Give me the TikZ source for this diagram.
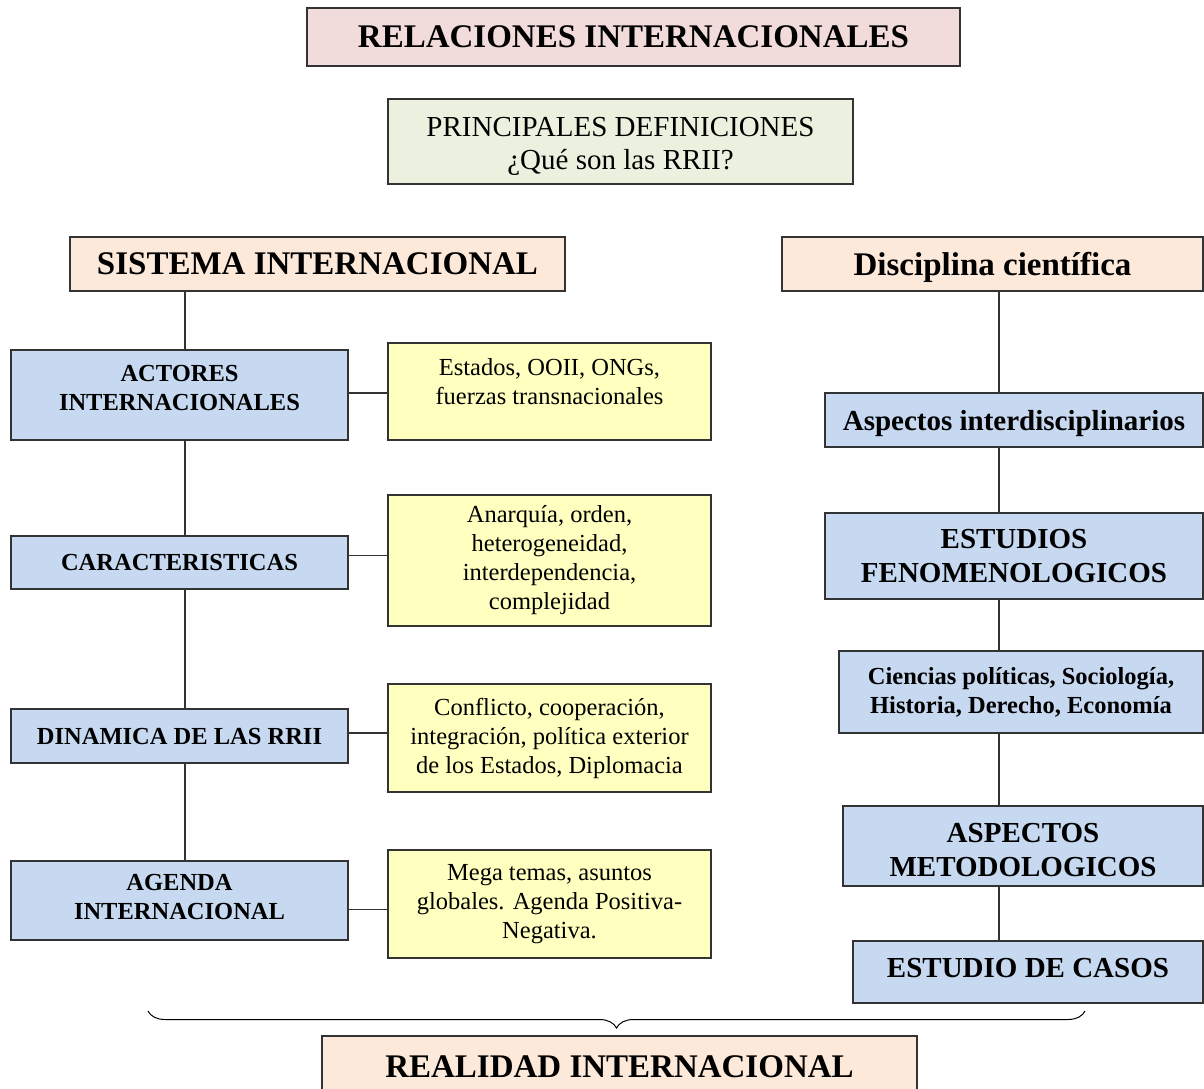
\documentclass[tikz,border=0pt]{standalone}
\usepackage{fontspec}
\setmainfont{Liberation Serif}
\usetikzlibrary{decorations.pathreplacing}
\definecolor{titpink}{HTML}{F2DCDB}
\definecolor{defgreen}{HTML}{EBF1DE}
\definecolor{headpeach}{HTML}{FDE9D9}
\definecolor{itemblue}{HTML}{C6D9F1}
\definecolor{noteyellow}{HTML}{FFFFC0}
\newcommand{\fbig}{\fontsize{33}{38}\selectfont\bfseries}
\newcommand{\fmid}{\fontsize{29}{34}\selectfont\bfseries}
\newcommand{\fsml}{\fontsize{24.5}{29}\selectfont}
\tikzset{
  box/.style 2 args={draw=black!80,line width=1.2pt,inner sep=0pt,outer sep=0pt,
    align=center,minimum width=#1pt,minimum height=#2pt},
  titbox/.style={fill=titpink,font=\fbig},
  defbox/.style={fill=defgreen,font=\fontsize{29}{33}\selectfont},
  headbox/.style={fill=headpeach,font=\fbig},
  itembox/.style={fill=itemblue,font=\fsml\bfseries},
  bigitem/.style={fill=itemblue,font=\fmid},
  notebox/.style={fill=noteyellow,font=\fsml},
  link/.style={draw=black!80,line width=1.4pt}
}
\begin{document}
\begin{tikzpicture}[x=1pt,y=-1pt]
\useasboundingbox (0,0) rectangle (1204,1088);
\coordinate (lspine) at (185,0);
\coordinate (rspine) at (999,0);
% top
\node[box={653}{58},titbox] (tit) at (633.5,37) {RELACIONES INTERNACIONALES};
\node[box={465}{85},defbox] (def) at (620.5,141.5) {\rule{0pt}{28pt}PRINCIPALES DEFINICIONES\\¿Qué son las RRII?};
% left column
\node[box={495}{54},headbox] (sis) at (317.5,264) {SISTEMA INTERNACIONAL};
\node[box={337}{90},itembox] (act) at (179.5,395) {ACTORES\\INTERNACIONALES\\[-23pt]\strut};
\node[box={337}{53},itembox] (car) at (179.5,562.5) {CARACTERISTICAS};
\node[box={337}{54},itembox] (din) at (179.5,736) {DINAMICA DE LAS RRII};
\node[box={337}{79},itembox] (age) at (179.5,900.5) {AGENDA\\INTERNACIONAL\\[-31pt]\strut};
\node[box={323}{97},notebox] (est) at (549.5,391.5) {Estados, OOII, ONGs,\\fuerzas transnacionales\\[-18pt]\strut};
\node[box={323}{131},notebox] (ana) at (549.5,560.5) {Anarquía, orden,\\heterogeneidad,\\interdependencia,\\complejidad};
\node[box={323}{108},notebox] (con) at (549.5,738) {Conflicto, cooperación,\\integración, política exterior\\de los Estados, Diplomacia};
\node[box={323}{108},notebox] (meg) at (549.5,904) {Mega temas, asuntos\\globales. Agenda Positiva-\\Negativa.};
% right column
\node[box={421}{54},headbox,text depth=0pt] (dis) at (992.5,264) {Disciplina científica};
\node[box={378}{54},bigitem,text depth=0pt] (asp) at (1014,420) {Aspectos interdisciplinarios};
\node[box={378}{86},bigitem] (fen) at (1014,556) {ESTUDIOS\\FENOMENOLOGICOS};
\node[box={364}{82},itembox] (cie) at (1021,692) {Ciencias políticas, Sociología,\\Historia, Derecho, Economía};
\node[box={360}{80},bigitem] (met) at (1023,846) {\rule{0pt}{27pt}ASPECTOS\\METODOLOGICOS};
\node[box={350}{62},bigitem,text depth=8pt] (cas) at (1028,972) {ESTUDIO DE CASOS};
% bottom
\node[box={595}{54},headbox,text height=30pt] (rea) at (619.5,1063) {REALIDAD INTERNACIONAL};
\coordinate (bl) at (148,1011);
\coordinate (br) at (1085,1011);
\draw[decorate,decoration={brace,mirror,amplitude=17pt},line width=1pt] (bl) -- (br);
% connectors
\foreach \a/\b in {sis/act,act/car,car/din,din/age}{
\draw[link] (\a.south -| lspine) -- (\b.north -| lspine);
}
\foreach \a/\b/\s in {act/est/2,car/ana/7,din/con/3,age/meg/-9}{
\draw[link] ([yshift=\s pt]\a.east) -- ([yshift=\s pt]\a.east -| \b.west);
}
\foreach \a/\b in {dis/asp,asp/fen,fen/cie,cie/met,met/cas}{
\draw[link] (\a.south -| rspine) -- (\b.north -| rspine);
}
\end{tikzpicture}
\end{document}
